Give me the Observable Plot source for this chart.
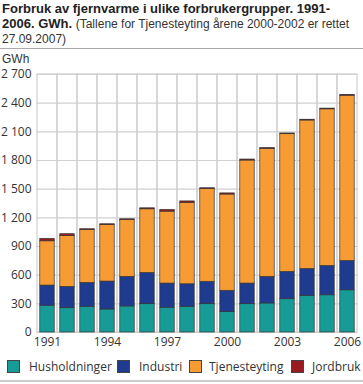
<!DOCTYPE html>
<html><head><meta charset="utf-8">
<script src="https://cdn.jsdelivr.net/npm/d3@7"></script>
<script src="https://cdn.jsdelivr.net/npm/@observablehq/plot@0.6"></script>
<style>
body{margin:0;background:#fff;font-family:"Open Sans",sans-serif;color:#222;}
#wrap{position:relative;width:363px;height:384px;overflow:hidden;}
.tl{position:absolute;left:2px;font-family:"Liberation Sans",Arial,sans-serif;font-size:13px;line-height:15px;height:15px;white-space:nowrap;}
.tl b{font-weight:700;}
.tl span{font-size:12px;font-weight:400;color:#333;}
#hr1{position:absolute;left:0;top:48px;width:363px;height:1px;background:#aaa;}
#unit{position:absolute;left:2px;top:52px;font-family:"Liberation Sans",Arial,sans-serif;font-size:12px;line-height:14px;color:#333;}
#chart{position:absolute;left:0;top:50px;}
#legend{position:absolute;left:7px;top:360px;font-size:12px;color:#333;white-space:nowrap;}
#legend .sw{position:absolute;top:0;width:13px;height:13px;border:1px solid #444;box-sizing:border-box;}
#legend .tx{position:absolute;top:-2px;}
#hr2{position:absolute;left:0;top:380px;width:363px;height:2px;background:#ccc;}
</style></head>
<body><div id="wrap">
<div class="tl" style="top:1px"><b>Forbruk av fjernvarme i ulike forbrukergrupper. 1991-</b></div>
<div class="tl" style="top:16px"><b>2006. GWh.</b> <span>(Tallene for Tjenesteyting årene 2000-2002 er rettet</span></div>
<div class="tl" style="top:31px"><span>27.09.2007)</span></div>
<div id="hr1"></div>
<div id="unit">GWh</div>
<div id="chart"></div>
<div id="legend"></div>
<div id="hr2"></div>
</div>
<script>
const years = [1991,1992,1993,1994,1995,1996,1997,1998,1999,2000,2001,2002,2003,2004,2005,2006];
const husholdninger = [280,255,269,241,273,297,259,269,297,214,297,304,349,384,390,442];
const industri = [211,222,250,292,309,326,253,236,233,222,215,278,285,281,306,306];
const tjenesteyting = [464,532,554,592,596,667,753,852,973,1008,1288,1340,1442,1554,1640,1730];
const jordbruk = [25,20,8,8,7,10,17,15,7,12,10,8,7,7,7,8];
const groups = ["Husholdninger","Industri","Tjenesteyting","Jordbruk"];
const colors = ["#169b97","#1f3b8f","#f79b35","#9a1b1f"];
const yTicks = [0,300,600,900,1200,1500,1800,2100,2400,2700];
const xTicks = [1991,1994,1997,2000,2003,2006];

const series = [husholdninger, industri, tjenesteyting, jordbruk];
const data = [];
years.forEach((yr,i)=>groups.forEach((g,k)=>data.push({year:yr, group:g, value:series[k][i]})));

const fmt = d => d3.format(",")(d).replace(/,/g," ");

const chart = Plot.plot({
  width:363, height:300,
  marginTop:24, marginBottom:18, marginLeft:36, marginRight:5.5,
  style:{fontFamily:"Open Sans, sans-serif", fontSize:"12px", color:"#333", background:"transparent"},
  x:{type:"band", domain:years, padding:0, label:null},
  y:{domain:[0,2700], label:null},
  color:{domain:groups, range:colors},
  marks:[
    Plot.ruleY(yTicks, {stroke:"#d0d0d0", strokeWidth:1.2}),
    Plot.barY(years, {x:d=>d, y1:0, y2:2700, fill:"none", stroke:"#d0d0d0", strokeWidth:1.2}),
    Plot.barY(data, {x:"year", y:"value", fill:"group", order:groups, stroke:"#333", strokeWidth:0.8, strokeOpacity:0.85, insetLeft:2.75, insetRight:2.75}),
    Plot.axisY({ticks:yTicks, tickSize:0, tickPadding:5, tickFormat:fmt, fontSize:12}),
    Plot.axisX({ticks:xTicks, tickSize:0, tickPadding:5, tickFormat:d=>String(d), fontSize:12})
  ]
});
document.getElementById("chart").appendChild(chart);

const lg = document.getElementById("legend");
const pos = [[0,22],[110,132],[182,202],[284,305]];
groups.forEach((g,k)=>{
  const sw = document.createElement("div"); sw.className="sw"; sw.style.left=pos[k][0]+"px"; sw.style.background=colors[k];
  const tx = document.createElement("div"); tx.className="tx"; tx.style.left=pos[k][1]+"px"; tx.textContent=g;
  lg.appendChild(sw); lg.appendChild(tx);
});
</script>
</body></html>
